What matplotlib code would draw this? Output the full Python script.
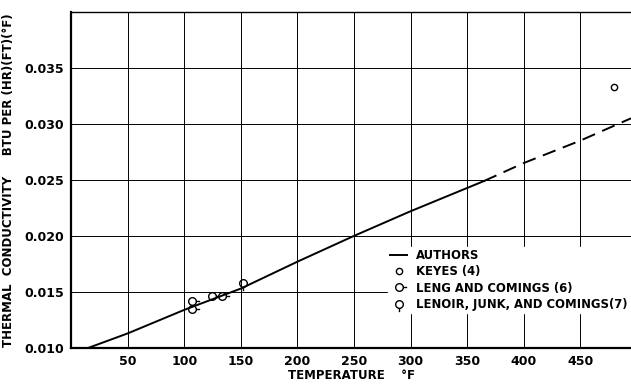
import numpy as np
import matplotlib
matplotlib.use("Agg")
import matplotlib.pyplot as plt
from matplotlib.path import Path

# authors' curve
auth_t = [15, 50, 100, 150, 200, 250, 300, 365]
auth_k = [0.0100, 0.0113, 0.0134, 0.0153, 0.0177, 0.0200, 0.0222, 0.0249]
ext_t = [365, 400, 450, 495]
ext_k = [0.0249, 0.0265, 0.0285, 0.0305]

keyes_t = [480]
keyes_k = [0.0333]

leng_t = [107, 107, 124, 133]
leng_k = [0.0142, 0.0135, 0.0146, 0.0146]

lenoir_t = [152]
lenoir_k = [0.0158]

xticks = [50, 100, 150, 200, 250, 300, 350, 400, 450]
yticks = [0.010, 0.015, 0.020, 0.025, 0.030, 0.035, 0.040]

# open circle with a tail to the right / down
circ = Path.circle((0, 0), 1.0)
tail_r = Path([(1, 0), (2, 0)], [Path.MOVETO, Path.LINETO])
tail_d = Path([(0, -1), (0, -2)], [Path.MOVETO, Path.LINETO])
leng_marker = Path.make_compound_path(circ, tail_r, Path([(-2, 0), (-2, 0)], [Path.MOVETO, Path.LINETO]))
lenoir_marker = Path.make_compound_path(circ, tail_d, Path([(0, 2), (0, 2)], [Path.MOVETO, Path.LINETO]))

plt.rcParams['font.family'] = 'DejaVu Sans'
fig = plt.figure(figsize=(6.31, 3.84), dpi=100)
ax = fig.add_axes([0.113, 0.094, 0.887, 0.875])

ax.plot(auth_t, auth_k, color='black', lw=1.4, label='AUTHORS')
ax.plot(ext_t, ext_k, color='black', lw=1.4, dashes=(7, 4))
ax.plot(keyes_t, keyes_k, 'o', ms=4.5, mfc='white', mec='black', mew=1.0, ls='none', label='KEYES (4)')
ax.plot(leng_t, leng_k, marker=leng_marker, ms=11, mfc='none', mec='black', mew=1.0, ls='none',
        label='LENG AND COMINGS (6)')
ax.plot(lenoir_t, lenoir_k, marker=lenoir_marker, ms=11, mfc='none', mec='black', mew=1.0, ls='none',
        label='LENOIR, JUNK, AND COMINGS(7)')

ax.set_xlim(0, 495)
ax.set_ylim(0.010, 0.040)
ax.set_xticks(xticks)
ax.set_yticks(yticks)
ax.set_yticklabels(['0.010', '0.015', '0.020', '0.025', '0.030', '0.035', ''])
ax.grid(True, color='black', lw=0.7)
ax.tick_params(length=0, labelsize=9, pad=5)
for lab in ax.get_xticklabels() + ax.get_yticklabels():
    lab.set_fontweight('bold')
ax.spines['right'].set_visible(False)
for s in ['left', 'bottom']:
    ax.spines[s].set_linewidth(1.6)
ax.spines['top'].set_linewidth(1.0)

ax.set_xlabel('TEMPERATURE    °F', fontsize=8.5, fontweight='bold', labelpad=1)
ax.set_ylabel('THERMAL  CONDUCTIVITY     BTU PER (HR)(FT)(°F)', fontsize=8.5, fontweight='bold', labelpad=7)

leg = ax.legend(loc='lower right', bbox_to_anchor=(1.0, 0.10), frameon=True, fontsize=8.4,
                handlelength=1.4, labelspacing=0.28, borderpad=0.2, handletextpad=0.8, borderaxespad=0.1)
leg.get_frame().set_edgecolor('white')
leg.get_frame().set_facecolor('white')
leg.get_frame().set_alpha(1.0)
for t in leg.get_texts():
    t.set_fontweight('bold')

fig.savefig('out.png', dpi=100)
